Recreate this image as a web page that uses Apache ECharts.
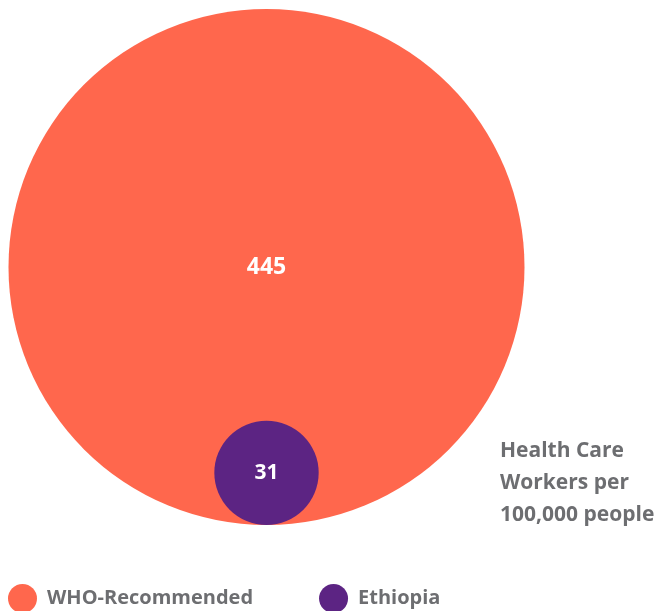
<!DOCTYPE html>
<html>
<head>
<meta charset="utf-8">
<script src="https://cdn.jsdelivr.net/npm/echarts@6/dist/echarts.min.js"></script>
<style>
  html, body { margin: 0; padding: 0; background: #fff; }
  #chart { width: 658px; height: 611px; }
</style>
</head>
<body>
<div id="chart"></div>
<script>
const names = ['WHO-Recommended', 'Ethiopia'];
const values = [445, 31];
const colors = ['#FF674D', '#5C2483'];
const unitLabel = ['Health Care', 'Workers per', '100,000 people'];

const chart = echarts.init(document.getElementById('chart'));

// bubble diameter in px, biggest one fixed at 516
const maxV = Math.max(...values);
const sizeOf = v => 516 * Math.pow(v / maxV, 0.6);

const series = names.map((n, i) => ({
  name: n,
  type: 'scatter',
  symbol: 'circle',
  symbolSize: sizeOf(values[i]),
  itemStyle: { color: colors[i], opacity: 1 },
  label: {
    show: true,
    position: 'inside',
    formatter: String(values[i]),
    color: '#fff',
    fontFamily: 'Open Sans',
    fontWeight: 'bold',
    fontSize: i === 0 ? 23 : 21
  },
  z: 2 + i,
  // sit every bubble on the same baseline
  data: [[266.5, sizeOf(values[i]) / 2]]
}));

chart.setOption({
  animation: false,
  grid: { left: 0, right: 0, top: 0, bottom: 86 },
  xAxis: { type: 'value', min: 0, max: 658, show: false },
  yAxis: { type: 'value', min: 0, max: 525, show: false },
  legend: {
    left: 3,
    top: 579,
    icon: 'circle',
    itemWidth: 29,
    itemHeight: 29,
    itemGap: 66,
    data: names,
    textStyle: {
      color: '#6D6E71',
      fontFamily: 'Open Sans',
      fontWeight: 'bold',
      fontSize: 20,
      padding: [0, 0, 0, 5]
    }
  },
  graphic: [{
    type: 'text',
    left: 500,
    top: 435,
    style: {
      text: unitLabel.join('\n'),
      fill: '#6D6E71',
      font: 'bold 21px "Open Sans"',
      lineHeight: 32
    }
  }],
  series
});
</script>
</body>
</html>
